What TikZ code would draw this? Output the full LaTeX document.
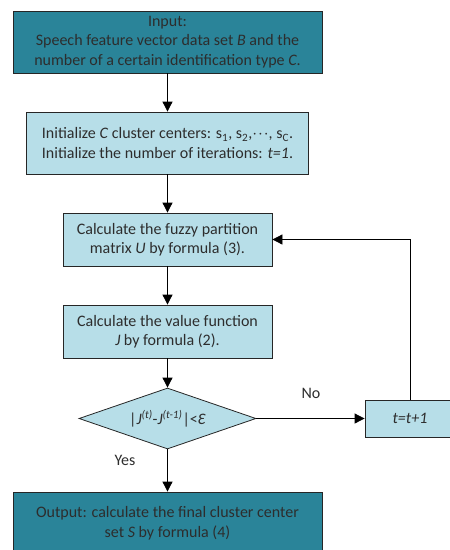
\documentclass[tikz,border=0pt]{standalone}
\usepackage{fontspec}
\setmainfont{Carlito}
\usetikzlibrary{shapes.geometric,arrows.meta,positioning}
\definecolor{darkteal}{RGB}{42,132,153}
\definecolor{lightblue}{RGB}{183,222,232}
\definecolor{textgray}{RGB}{45,45,45}

\begin{document}
\begin{tikzpicture}[x=1pt,y=-1pt,
    every node/.style={font=\fontsize{16}{19.5}\selectfont, text=textgray},
    iobox/.style={draw=black!85, line width=0.8pt, fill=darkteal, align=center, inner sep=0pt},
    procbox/.style={draw=black!85, line width=0.8pt, fill=lightblue, align=center, inner sep=0pt},
    decide/.style={draw=black!85, line width=0.8pt, fill=lightblue, diamond, shape aspect=2.9, inner sep=0pt},
    flow/.style={-{Triangle[length=10pt,width=10pt]}, line width=0.8pt, black}]
    \useasboundingbox (0,0) rectangle (450,550);
    \clip (0,0) rectangle (450,550);
    \node[iobox, minimum width=309pt, minimum height=62pt] (input) at (167.5,42)
        {Input:\\Speech feature vector data set \textit{B} and the\\number of a certain identification type \textit{C}.};
    \node[procbox, minimum width=282pt, minimum height=62pt] (init) at (167.5,143)
        {Initialize \textit{C} cluster centers: s\textsubscript{1}, s\textsubscript{2},{$\cdot\!\cdot\!\cdot$}, s\textsubscript{C}.\\Initialize the number of iterations: \textit{t=1}.};
    \node[procbox, minimum width=209pt, minimum height=53pt] (fuzzy) at (167.5,239.5)
        {Calculate the fuzzy partition\\matrix \textit{U} by formula (3).};
    \node[procbox, minimum width=209pt, minimum height=53pt] (value) at (167.5,331.5)
        {Calculate the value function\\\textit{J} by formula (2).};
    \node[decide, minimum width=177pt, minimum height=61pt] (check) at (167.5,418.5)
        {|\textit{J}\textsuperscript{\textit{(t)}}-\textit{J}\textsuperscript{\textit{(t-1)}}|<\textit{Ɛ}};
    \node[procbox, minimum width=90pt, minimum height=37pt] (tinc) at (410,418.5) {\textit{t=t+1}};
    \node[iobox, minimum width=309pt, minimum height=62pt] (output) at (167.5,523)
        {Output: calculate the final cluster center\\set \textit{S} by formula (4)};
    \draw[flow] (input) -- (init);
    \draw[flow] (init) -- (fuzzy);
    \draw[flow] (fuzzy) -- (value);
    \draw[flow] (value) -- (check);
    \draw[flow] (check) -- (output);
    \draw[flow] (check) -- (tinc);
    \draw[flow] (tinc.north) |- (fuzzy.east);
    \node (yes) at (125,460) {Yes};
    \node (no) at (311,393) {No};
\end{tikzpicture}
\end{document}
